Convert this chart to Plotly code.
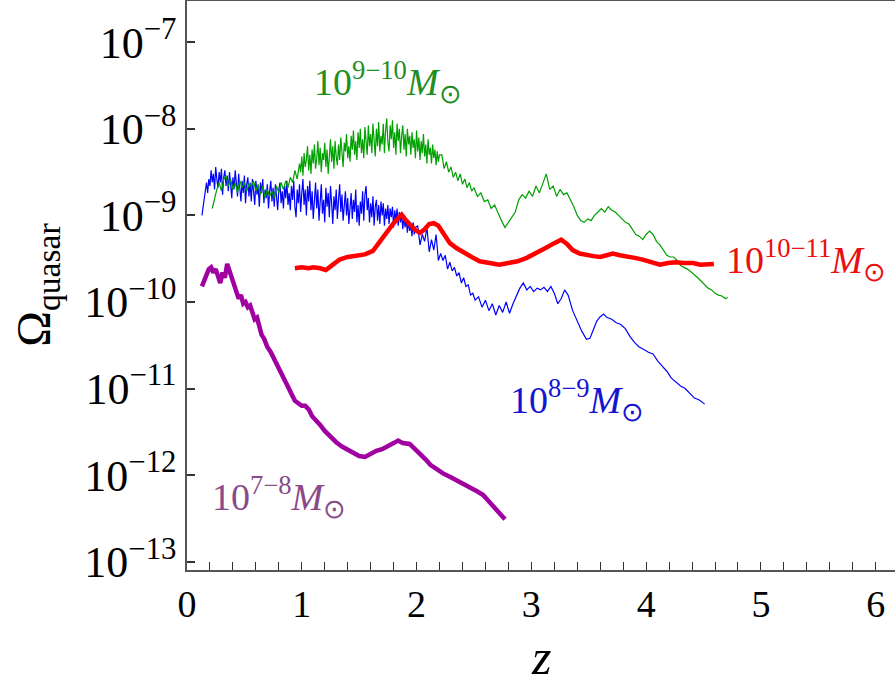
import numpy as np
import plotly.graph_objects as go

# ---- data (redshift z, log10 Omega_quasar) ----
blue_z = [0.13,0.14,0.15,0.16,0.17,0.18,0.19,0.20,0.21,0.22,
          0.23,0.24,0.25,0.26,0.27,0.28,0.29,0.30,0.31,0.32,
          0.33,0.34,0.35,0.36,0.37,0.38,0.39,0.40,0.41,0.42,
          0.43,0.44,0.45,0.46,0.47,0.48,0.49,0.50,0.51,0.52,
          0.53,0.54,0.55,0.56,0.57,0.58,0.59,0.60,0.61,0.62,
          0.63,0.64,0.65,0.66,0.67,0.68,0.69,0.70,0.71,0.72,
          0.73,0.74,0.75,0.76,0.77,0.78,0.79,0.80,0.81,0.82,
          0.83,0.84,0.85,0.86,0.87,0.88,0.89,0.90,0.91,0.92,
          0.93,0.94,0.95,0.96,0.97,0.98,0.99,1.00,1.01,1.02,
          1.03,1.04,1.05,1.06,1.07,1.08,1.09,1.10,1.11,1.12,
          1.13,1.14,1.15,1.16,1.17,1.18,1.19,1.20,1.21,1.22,
          1.23,1.24,1.25,1.26,1.27,1.28,1.29,1.30,1.31,1.32,
          1.33,1.34,1.35,1.36,1.37,1.38,1.39,1.40,1.41,1.42,
          1.43,1.44,1.45,1.46,1.47,1.48,1.49,1.50,1.51,1.52,
          1.53,1.54,1.55,1.56,1.57,1.58,1.59,1.60,1.61,1.62,
          1.63,1.64,1.65,1.66,1.67,1.68,1.69,1.70,1.71,1.72,
          1.73,1.74,1.75,1.76,1.77,1.78,1.79,1.80,1.81,1.82,
          1.83,1.84,1.85,1.86,1.87,1.88,1.89,1.90,1.91,1.92,
          1.93,1.94,1.95,1.96,1.97,1.98,1.99,
          2.01,2.03,2.05,2.07,2.09,2.11,2.13,2.15,2.17,2.19,2.21,2.23,2.25,
          2.27,2.29,2.31,2.33,2.35,2.37,2.39,2.41,2.43,2.45,2.47,2.49,2.51,
          2.54,2.57,2.60,2.63,2.66,2.69,2.72,2.75,2.78,2.81,2.84,2.87,2.90,2.93,2.96,2.99,3.02,3.05,3.08,3.11,
          3.14,3.17,3.20,3.23,3.26,3.29,3.32,3.36,3.40,3.44,3.48,3.51,3.54,3.57,3.60,3.63,3.66,3.70,3.74,3.78,
          3.82,3.86,3.90,3.94,3.98,4.02,4.06,4.10,4.14,4.18,4.22,4.26,4.30,4.34,4.38,4.42,4.46,4.51]
blue_logy = [-9.00,-8.90,-8.78,-8.70,-8.62,-8.74,-8.58,-8.66,-8.48,-8.62,
             -8.52,-8.70,-8.44,-8.58,-8.68,-8.50,-8.62,-8.46,-8.76,-8.56,
             -8.48,-8.66,-8.54,-8.72,-8.50,-8.64,-8.80,-8.56,-8.70,-8.48,
             -8.62,-8.78,-8.52,-8.68,-8.84,-8.60,-8.74,-8.54,-8.86,-8.64,
             -8.56,-8.78,-8.62,-8.84,-8.58,-8.72,-8.88,-8.60,-8.76,-8.66,
             -8.90,-8.62,-8.74,-8.58,-8.86,-8.70,-8.80,-8.64,-8.92,-8.72,
             -8.60,-8.84,-8.68,-8.90,-8.64,-8.78,-8.94,-8.70,-8.62,-8.86,
             -8.72,-8.92,-8.66,-8.80,-8.60,-8.88,-8.74,-8.94,-8.66,-8.82,
             -8.60,-8.90,-9.02,-8.70,-8.86,-8.64,-8.96,-8.74,-8.58,-8.88,
             -8.70,-9.00,-8.66,-8.84,-8.60,-8.94,-8.72,-9.04,-8.80,-8.62,
             -8.92,-8.70,-9.06,-8.76,-8.64,-8.98,-8.82,-9.08,-8.68,-8.90,
             -8.74,-9.02,-8.66,-8.86,-9.10,-8.78,-8.94,-8.70,-9.04,-8.82,
             -8.64,-8.96,-8.76,-9.06,-8.84,-8.72,-9.00,-8.80,-9.10,-8.86,
             -8.74,-9.04,-8.82,-8.96,-8.70,-9.08,-8.88,-9.12,-8.84,-8.98,
             -8.72,-9.06,-8.76,-8.66,-8.94,-8.80,-9.08,-8.86,-9.02,-8.78,
             -9.12,-8.90,-8.82,-9.06,-8.88,-9.10,-8.84,-9.00,-8.86,-9.12,
             -8.92,-9.04,-8.88,-9.10,-8.92,-9.02,-8.90,-9.14,-8.94,-9.06,
             -8.92,-9.12,-8.96,-9.08,-8.98,-9.16,-9.00,-9.14,-9.04,-9.20,
             -9.06,-9.18,-9.10,-9.24,-9.08,-9.22,-9.14,
             -9.12,-9.34,-9.22,-9.30,-9.14,-9.42,-9.28,-9.40,-9.22,-9.52,-9.44,-9.52,-9.46,
             -9.62,-9.54,-9.64,-9.60,-9.70,-9.66,-9.78,-9.72,-9.82,-9.80,-9.92,-9.90,-9.98,
             -9.94,-10.06,-9.98,-10.10,-10.02,-10.15,-10.04,-10.12,-10.00,-10.13,-10.02,-9.92,-9.84,-9.78,-9.86,-9.82,-9.88,-9.84,-9.86,-9.83,
             -9.88,-9.82,-9.90,-10.02,-9.96,-9.86,-9.92,-10.10,-10.22,-10.34,-10.43,-10.42,-10.32,-10.22,-10.17,-10.14,-10.18,-10.20,-10.24,-10.26,
             -10.31,-10.40,-10.47,-10.52,-10.55,-10.58,-10.60,-10.68,-10.74,-10.80,-10.88,-10.93,-10.97,-11.00,-11.06,-11.11,-11.13,-11.18]

green_z = [0.22,0.24,0.26,0.28,0.30,0.32,0.34,0.36,0.38,0.40,
           0.42,0.44,0.46,0.48,0.50,0.52,0.54,0.56,0.58,0.60,
           0.62,0.64,0.66,0.68,0.70,0.72,0.74,0.76,0.78,0.80,
           0.82,0.84,0.86,0.88,0.90,0.92,0.94,0.96,
           0.98,0.99,1.00,1.01,1.02,1.03,1.04,1.05,1.06,1.07,
           1.08,1.09,1.10,1.11,1.12,1.13,1.14,1.15,1.16,1.17,
           1.18,1.19,1.20,1.21,1.22,1.23,1.24,1.25,1.26,1.27,
           1.28,1.29,1.30,1.31,1.32,1.33,1.34,1.35,1.36,1.37,
           1.38,1.39,1.40,1.41,1.42,1.43,1.44,1.45,1.46,1.47,
           1.48,1.49,1.50,1.51,1.52,1.53,1.54,1.55,1.56,1.57,
           1.58,1.59,1.60,1.61,1.62,1.63,1.64,1.65,1.66,1.67,
           1.68,1.69,1.70,1.71,1.72,1.73,1.74,1.75,1.76,1.77,
           1.78,1.79,1.80,1.81,1.82,1.83,1.84,1.85,1.86,1.87,
           1.88,1.89,1.90,1.91,1.92,1.93,1.94,1.95,1.96,1.97,
           1.98,1.99,2.00,2.01,2.02,2.03,2.04,2.05,2.06,2.07,
           2.08,2.09,2.10,2.11,2.12,2.13,2.14,2.15,2.16,2.17,
           2.18,2.19,2.20,
           2.22,2.24,2.26,2.28,2.30,2.32,2.34,2.36,2.38,2.40,2.42,2.44,2.46,2.48,2.50,
           2.53,2.56,2.59,2.62,2.65,2.68,2.71,2.74,2.77,2.80,2.83,2.86,2.89,2.92,2.95,2.98,3.01,3.04,3.07,3.10,
           3.13,3.16,3.19,3.22,3.25,3.28,3.31,3.34,3.37,3.40,3.43,3.46,3.49,3.52,3.55,3.58,3.61,3.64,3.67,3.70,
           3.73,3.76,3.79,3.82,3.85,3.88,3.91,3.94,3.97,4.00,4.03,4.06,4.09,4.12,4.15,4.18,4.21,4.24,4.27,4.30,
           4.33,4.36,4.39,4.42,4.45,4.48,4.51,4.54,4.57,4.60,4.63,4.66,4.69,4.71]
green_logy = [-8.92,-8.80,-8.70,-8.62,-8.72,-8.58,-8.54,-8.66,-8.58,-8.70,
              -8.62,-8.74,-8.60,-8.68,-8.62,-8.72,-8.64,-8.66,-8.60,-8.72,
              -8.64,-8.76,-8.66,-8.80,-8.70,-8.78,-8.72,-8.80,-8.66,-8.74,
              -8.62,-8.70,-8.60,-8.68,-8.56,-8.62,-8.48,-8.58,
              -8.40,-8.50,-8.32,-8.54,-8.28,-8.44,-8.36,-8.20,-8.48,-8.30,
              -8.52,-8.24,-8.40,-8.18,-8.46,-8.34,-8.14,-8.42,-8.22,-8.50,
              -8.28,-8.36,-8.16,-8.44,-8.24,-8.52,-8.30,-8.12,-8.38,-8.20,
              -8.46,-8.14,-8.32,-8.42,-8.18,-8.36,-8.10,-8.30,-8.44,-8.16,
              -8.26,-8.06,-8.34,-8.20,-8.38,-8.08,-8.24,-8.02,-8.30,-8.14,
              -8.36,-8.04,-8.22,-8.00,-8.28,-8.12,-8.34,-7.98,-8.18,-8.30,
              -7.96,-8.20,-8.06,-8.28,-7.94,-8.14,-8.32,-8.00,-8.20,-7.92,
              -8.26,-8.08,-8.18,-7.94,-8.28,-8.02,-7.88,-8.16,-8.26,-7.96,
              -8.12,-7.90,-8.22,-8.04,-8.30,-7.94,-8.14,-8.00,-8.28,-8.08,
              -7.96,-8.24,-8.06,-8.32,-8.00,-8.18,-8.08,-8.30,-8.04,-8.22,
              -8.12,-8.34,-8.02,-8.26,-8.10,-8.36,-8.14,-8.28,-8.06,-8.32,
              -8.18,-8.40,-8.12,-8.30,-8.22,-8.40,-8.18,-8.34,-8.24,-8.42,
              -8.26,-8.38,-8.30,
              -8.30,-8.46,-8.38,-8.50,-8.44,-8.56,-8.50,-8.60,-8.52,-8.64,-8.58,-8.68,-8.62,-8.72,-8.68,
              -8.78,-8.74,-8.84,-8.82,-8.92,-8.88,-8.98,-9.06,-9.14,-9.08,-9.02,-8.96,-8.82,-8.76,-8.80,-8.72,-8.78,-8.66,-8.74,-8.62,
              -8.52,-8.70,-8.66,-8.78,-8.70,-8.76,-8.74,-8.82,-8.90,-9.00,-9.06,-9.08,-9.04,-9.06,-9.00,-8.96,-8.92,-8.96,-8.90,-8.94,
              -8.96,-9.00,-9.04,-9.08,-9.10,-9.16,-9.22,-9.24,-9.28,-9.22,-9.18,-9.22,-9.30,-9.34,-9.40,-9.46,-9.48,-9.48,-9.52,-9.58,
              -9.60,-9.62,-9.65,-9.68,-9.72,-9.76,-9.80,-9.84,-9.86,-9.90,-9.92,-9.93,-9.96,-9.95]

red_z = [0.94,1.00,1.06,1.10,1.16,1.21,1.26,1.33,1.40,1.48,1.55,1.62,1.68,1.74,1.80,1.84,1.87,1.91,1.95,1.99,
         2.03,2.07,2.11,2.15,2.19,2.24,2.29,2.35,2.41,2.48,2.55,2.63,2.72,2.80,2.88,2.96,3.04,3.12,3.20,3.26,
         3.31,3.36,3.42,3.48,3.54,3.60,3.66,3.71,3.77,3.83,3.90,3.97,4.04,4.12,4.19,4.26,4.33,4.41,4.47,4.53,4.59]
red_logy = [-9.61,-9.60,-9.61,-9.60,-9.61,-9.63,-9.58,-9.51,-9.48,-9.47,-9.45,-9.41,-9.30,-9.20,-9.09,-9.03,-8.99,-9.06,-9.12,-9.17,
            -9.20,-9.16,-9.10,-9.09,-9.12,-9.22,-9.32,-9.38,-9.42,-9.48,-9.53,-9.55,-9.57,-9.55,-9.53,-9.49,-9.44,-9.38,-9.32,-9.28,
            -9.33,-9.40,-9.44,-9.46,-9.47,-9.48,-9.46,-9.44,-9.46,-9.48,-9.49,-9.51,-9.54,-9.57,-9.55,-9.54,-9.55,-9.55,-9.57,-9.57,-9.56]

purple_z = [0.13,0.15,0.17,0.19,0.21,0.23,0.25,0.27,0.29,0.31,0.33,0.35,0.37,0.39,0.41,0.43,0.45,0.47,0.49,0.51,
            0.53,0.55,0.57,0.59,0.61,0.63,0.65,0.67,0.70,0.73,0.76,0.79,0.82,0.85,0.88,0.91,0.94,0.97,1.00,1.03,
            1.06,1.09,1.12,1.16,1.20,1.25,1.30,1.35,1.40,1.45,1.50,1.55,1.60,1.65,1.70,1.75,1.80,1.84,1.88,1.94,
            1.99,2.03,2.08,2.12,2.17,2.23,2.29,2.35,2.41,2.47,2.53,2.58,2.63,2.67,2.72,2.77]
purple_logy = [-9.82,-9.76,-9.70,-9.62,-9.60,-9.66,-9.62,-9.72,-9.78,-9.66,-9.72,-9.56,-9.64,-9.74,-9.80,-9.86,-9.96,-9.92,-10.02,-10.00,
               -10.06,-10.04,-10.14,-10.20,-10.18,-10.30,-10.38,-10.42,-10.52,-10.58,-10.66,-10.74,-10.84,-10.92,-11.00,-11.08,-11.14,-11.17,-11.20,-11.20,
               -11.24,-11.32,-11.36,-11.42,-11.49,-11.56,-11.62,-11.67,-11.71,-11.74,-11.78,-11.79,-11.75,-11.72,-11.70,-11.67,-11.63,-11.60,-11.63,-11.64,
               -11.70,-11.75,-11.82,-11.88,-11.93,-11.98,-12.02,-12.06,-12.11,-12.15,-12.19,-12.23,-12.30,-12.37,-12.43,-12.51]

y_tick_exps = [-13, -12, -11, -10, -9, -8, -7]
x_ticks = [0, 1, 2, 3, 4, 5, 6]

n = min(len(blue_z), len(blue_logy)); blue_z, blue_logy = blue_z[:n], blue_logy[:n]
n = min(len(green_z), len(green_logy)); green_z, green_logy = green_z[:n], green_logy[:n]

FONT = "Liberation Serif"

fig = go.Figure()
fig.add_trace(go.Scatter(x=blue_z, y=np.power(10.0, blue_logy), mode="lines",
                         line=dict(color="#0000ff", width=1.2), name="10^8-9"))
fig.add_trace(go.Scatter(x=green_z, y=np.power(10.0, green_logy), mode="lines",
                         line=dict(color="#00a000", width=1.2), name="10^9-10"))
fig.add_trace(go.Scatter(x=red_z, y=np.power(10.0, red_logy), mode="lines",
                         line=dict(color="#ff0000", width=4.5), name="10^10-11"))
fig.add_trace(go.Scatter(x=purple_z, y=np.power(10.0, purple_logy), mode="lines",
                         line=dict(color="#a000a0", width=4.5), name="10^7-8"))

def lab(x, y, txt, color):
    fig.add_annotation(x=x, y=y, text=txt, showarrow=False, xanchor="center", yanchor="middle",
                       font=dict(family=FONT, size=38, color=color))

lab(1.75, -7.46, "10<sup>9−10</sup><i>M</i><sub>⊙</sub>", "#1f8f1f")
lab(5.39, -9.51, "10<sup>10−11</sup><i>M</i><sub>⊙</sub>", "#e81010")
lab(3.40, -11.13, "10<sup>8−9</sup><i>M</i><sub>⊙</sub>", "#1515d0")
lab(0.80, -12.25, "10<sup>7−8</sup><i>M</i><sub>⊙</sub>", "#8a4a8a")

# axis titles
fig.add_annotation(xref="paper", yref="paper", x=0.5, y=-0.2036, text="<i>z</i>", showarrow=False,
                   xanchor="center", yanchor="bottom", borderpad=0,
                   font=dict(family=FONT, size=50, color="black"))
fig.add_annotation(xref="paper", yref="paper", x=-0.213, y=0.50, text="Ω<sub>quasar</sub>", showarrow=False,
                   textangle=-90, xanchor="center", yanchor="middle",
                   font=dict(family=FONT, size=48, color="black"))

fig.update_layout(
    width=895, height=686,
    margin=dict(l=187, r=0, t=1, b=116),
    plot_bgcolor="white", paper_bgcolor="white",
    showlegend=False,
    font=dict(family=FONT, color="black"),
)
fig.update_xaxes(
    range=[0, 6.168], showgrid=False, zeroline=False, automargin=False,
    showline=True, linecolor="#555555", linewidth=1.5, mirror=True,
    ticks="inside", ticklen=8, tickwidth=1, tickcolor="#333333",
    tickvals=x_ticks, ticktext=[str(v) for v in x_ticks],
    tickfont=dict(family=FONT, size=38), ticklabelstandoff=0,
    minor=dict(dtick=0.2, ticks="inside", ticklen=8, tickwidth=1, tickcolor="#333333"),
)
fig.update_yaxes(
    type="log", range=[-13.096, -6.523], showgrid=False, zeroline=False, automargin=False,
    showline=True, linecolor="#555555", linewidth=1.5, mirror=False,
    ticks="inside", ticklen=8, tickwidth=1.5, tickcolor="#333333",
    tickvals=[10.0 ** e for e in y_tick_exps],
    ticktext=["10<sup>−%d</sup>" % (-e) for e in y_tick_exps],
    tickfont=dict(family=FONT, size=44), ticklabelstandoff=0,
)

fig.write_html("out.html", config={"displayModeBar": False},
               post_script="document.body.style.margin='0';")
